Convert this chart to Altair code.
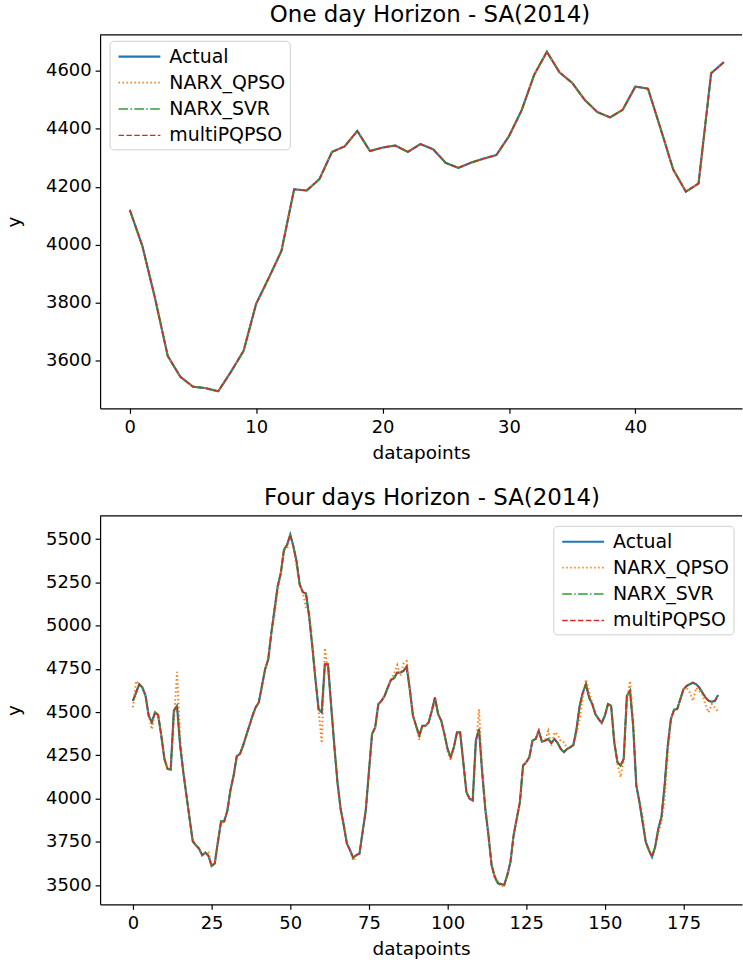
import altair as alt
import pandas as pd

FONT = "DejaVu Sans"
SERIES = ["Actual", "NARX_QPSO", "NARX_SVR", "multiPQPSO"]
COLORS = ["#1f77b4", "#ff7f0e", "#2ca02c", "#d62728"]
DASHES = [[1, 0], [1.5, 2.5], [9.6, 2.4, 1.5, 2.4], [5.5, 2.4]]
WIDTHS = [2.2, 1.4, 1.4, 1.4]

# One day horizon (48 half-hourly points)
day_actual = [4120, 3995, 3815, 3617, 3545, 3511, 3506, 3495, 3562, 3634,
              3797, 3886, 3979, 4191, 4187, 4226, 4320, 4339, 4392, 4323,
              4335, 4342, 4320, 4347, 4329, 4282, 4265, 4283, 4297, 4309,
              4374, 4463, 4586, 4665, 4594, 4558, 4499, 4457, 4439, 4465,
              4545, 4538, 4400, 4259, 4183, 4211, 4591, 4629]
day_qpso = list(day_actual)
day_svr = list(day_actual)
day_multi = list(day_actual)

# Four days horizon (187 points)
four_actual = [4565, 4613, 4661, 4642, 4594, 4479, 4440, 4498, 4483, 4364,
               4229, 4172, 4168, 4508, 4536, 4306, 4153, 4018, 3884, 3753,
               3730, 3711, 3673, 3688, 3669, 3611, 3625, 3750, 3868, 3868,
               3930, 4050, 4133, 4245, 4258, 4306, 4364, 4421, 4479, 4527,
               4556, 4651, 4747, 4805, 4959, 5093, 5227, 5304, 5438, 5467,
               5525, 5457, 5371, 5237, 5193, 5185, 5054, 4882, 4690, 4517,
               4498, 4776, 4776, 4536, 4306, 4095, 3941, 3846, 3740, 3702,
               3658, 3673, 3682, 3807, 3932, 4153, 4373, 4412, 4546, 4565,
               4594, 4642, 4686, 4696, 4728, 4728, 4738, 4763, 4632, 4479,
               4421, 4364, 4421, 4421, 4440, 4508, 4584, 4488, 4450, 4373,
               4287, 4239, 4296, 4383, 4383, 4210, 4037, 3999, 3989, 4335,
               4402, 4153, 3941, 3788, 3615, 3548, 3510, 3506, 3500, 3558,
               3634, 3788, 3884, 3980, 4191, 4210, 4239, 4335, 4344, 4392,
               4329, 4335, 4344, 4321, 4344, 4321, 4287, 4268, 4287, 4296,
               4310, 4402, 4536, 4613, 4661, 4584, 4546, 4488, 4460, 4437,
               4479, 4546, 4536, 4325, 4210, 4191, 4229, 4594, 4623, 4421,
               4076, 3980, 3864, 3750, 3702, 3663, 3721, 3826, 3893, 4076,
               4306, 4460, 4513, 4517, 4575, 4632, 4651, 4661, 4670, 4661,
               4642, 4613, 4584, 4565, 4559, 4565, 4598]
# points where the NARX_QPSO forecast departs from the actual load
four_qpso_departures = {
    0: 4527, 1: 4680, 6: 4400, 13: 4440, 14: 4732, 15: 4350, 24: 3690,
    28: 3850, 45: 5060, 46: 5200, 49: 5440, 52: 5340, 55: 5100, 56: 5080,
    60: 4320, 61: 4870, 62: 4740, 70: 3640, 83: 4720, 84: 4772, 85: 4709,
    86: 4780, 87: 4795, 91: 4340, 96: 4560, 100: 4270, 101: 4220,
    109: 4300, 110: 4517, 116: 3520, 117: 3490, 132: 4392, 133: 4306,
    134: 4383, 135: 4370, 136: 4330, 137: 4325, 138: 4290, 141: 4380,
    142: 4460, 143: 4590, 144: 4690, 145: 4620, 153: 4330, 154: 4200,
    155: 4124, 157: 4560, 158: 4680, 159: 4450, 162: 3900, 167: 3800,
    168: 3870, 169: 4000, 170: 4260, 176: 4640, 177: 4613, 178: 4565,
    179: 4640, 180: 4620, 181: 4600, 182: 4540, 183: 4498, 184: 4546,
    185: 4525, 186: 4502,
}
four_qpso = [four_qpso_departures.get(i, v) for i, v in enumerate(four_actual)]
four_svr = list(four_actual)
four_multi = list(four_actual)


def long_table(columns):
    rows = []
    for name, values in zip(SERIES, columns):
        for i, v in enumerate(values):
            rows.append({"datapoints": i, "y": v, "series": name})
    return pd.DataFrame(rows)


def panel(df, title, width, height, xdom, ydom, xticks, yticks,
          legend_x, legend_y, title_dx, title_offset):
    # a long horizontal handle: the unit path spans twice the symbol size
    legend = alt.Legend(
        title=None, orient="none", legendX=legend_x, legendY=legend_y,
        symbolType="M-2,0H2", symbolSize=441, symbolStrokeWidth=1.8,
        symbolOffset=14, labelOffset=18,
        labelFont=FONT, labelFontSize=19, labelColor="black",
        rowPadding=4.5, padding=4,
        strokeColor="#d0d0d0", cornerRadius=4, fillColor="white",
    )
    axis_style = dict(
        labelFont=FONT, labelFontSize=18, labelColor="black",
        titleFont=FONT, titleFontSize=18.5, titleFontWeight="normal",
        titleColor="black", tickColor="black", domainColor="black",
        tickSize=5, tickWidth=1.2, domainWidth=1.2, grid=False,
        labelFlush=False,
    )
    lines = alt.Chart(df).mark_line().encode(
        x=alt.X("datapoints:Q",
                scale=alt.Scale(domain=xdom, nice=False, zero=False),
                axis=alt.Axis(values=xticks, title="datapoints",
                              labelPadding=5, titlePadding=7, **axis_style)),
        y=alt.Y("y:Q",
                scale=alt.Scale(domain=ydom, nice=False, zero=False),
                axis=alt.Axis(values=yticks, title="y", format="d",
                              labelPadding=4, titlePadding=22.5,
                              **axis_style)),
        color=alt.Color("series:N",
                        scale=alt.Scale(domain=SERIES, range=COLORS),
                        legend=legend),
        strokeDash=alt.StrokeDash("series:N",
                                  scale=alt.Scale(domain=SERIES, range=DASHES),
                                  legend=legend),
        strokeWidth=alt.StrokeWidth("series:N",
                                    scale=alt.Scale(domain=SERIES, range=WIDTHS),
                                    legend=None),
    )
    top_edge = alt.Chart(pd.DataFrame({"edge": [0]})).mark_rule(
        color="black", strokeWidth=1.2
    ).encode(x=alt.value(0), x2=alt.value(width), y=alt.value(0))
    return alt.layer(lines, top_edge).properties(
        width=width, height=height,
        title=alt.TitleParams(title, font=FONT, fontSize=23,
                              fontWeight="normal", color="black",
                              anchor="middle", dx=title_dx,
                              offset=title_offset),
    ).resolve_scale(color="independent", strokeDash="independent",
                    strokeWidth="independent")


day = long_table([day_actual, day_qpso, day_svr, day_multi])
four = long_table([four_actual, four_qpso, four_svr, four_multi])

top = panel(day, "One day Horizon - SA(2014)", 644.5, 375,
            [-2.35, 48.44], [3436.5, 4723.5],
            [0, 10, 20, 30, 40], [3600, 3800, 4000, 4200, 4400, 4600],
            9.5, 6, 9, 7)
bottom = panel(four, "Four days Horizon - SA(2014)", 644.5, 390,
               [-10.45, 193.6], [3389, 5634],
               [0, 25, 50, 75, 100, 125, 150, 175],
               [3500, 3750, 4000, 4250, 4500, 4750, 5000, 5250, 5500],
               455, 10, 11, 5)

chart = alt.vconcat(top, bottom, spacing=25).resolve_scale(
    color="independent", strokeDash="independent", strokeWidth="independent"
).resolve_legend(
    color="independent", strokeDash="independent"
).properties(
    padding={"left": 3.5, "top": 2, "right": 0, "bottom": 0}
).configure_view(stroke=None)

chart.save("out.html", embed_options={"renderer": "svg", "actions": False})
